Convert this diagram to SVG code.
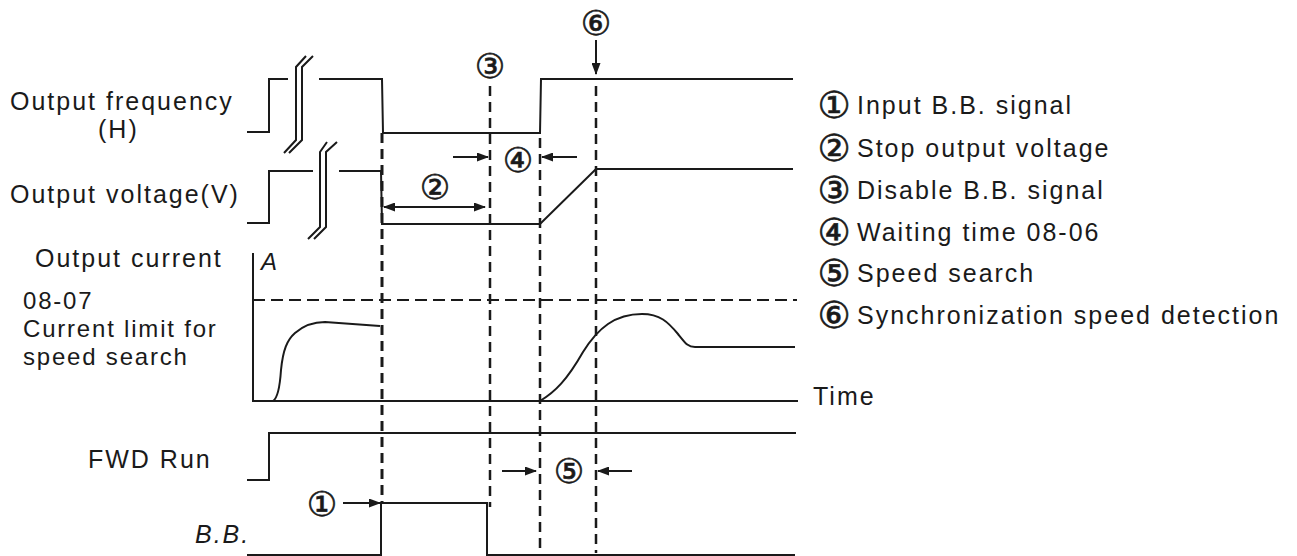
<svg xmlns="http://www.w3.org/2000/svg" width="1297" height="556" viewBox="0 0 1297 556">
<style>
.t{font-family:"Liberation Sans",Arial,sans-serif;font-size:25px;letter-spacing:2px;fill:#1a1a1a}
.sm{font-size:24px;letter-spacing:1.8px}
.it{font-style:italic}
.c{font-family:"DejaVu Sans",sans-serif;fill:#1a1a1a;stroke:#1a1a1a;stroke-width:0.6;text-anchor:middle;dominant-baseline:central}
.cl{font-size:37px}
.cd{font-size:34px}
.s{fill:none;stroke:#1a1a1a;stroke-width:2}
.d{fill:none;stroke:#1a1a1a;stroke-width:2.5;stroke-dasharray:10 6}
.dh{fill:none;stroke:#1a1a1a;stroke-width:2.2;stroke-dasharray:12 6}
.a{fill:none;stroke:#1a1a1a;stroke-width:2;marker-end:url(#ah)}
</style>
<defs>
<marker id="ah" markerUnits="userSpaceOnUse" markerWidth="12" markerHeight="9" refX="11" refY="4.5" orient="auto-start-reverse">
<path d="M0,0 L12,4.5 L0,9 z" fill="#1a1a1a"/>
</marker>
</defs>
<rect width="1297" height="556" fill="#fff"/>

<g id="labels">
<text class="t" x="10" y="110">Output frequency</text>
<text class="t" x="98" y="138">(H)</text>
<text class="t" x="10" y="203">Output voltage(V)</text>
<text class="t" x="35" y="267">Output current</text>
<text class="t sm" x="23" y="309">08-07</text>
<text class="t sm" x="23" y="337">Current limit for</text>
<text class="t sm" x="23" y="365">speed search</text>
<text class="t" x="88" y="468">FWD Run</text>
<text class="t it" x="195" y="543">B.B.</text>
<text class="t it" x="261" y="270" style="font-size:24px">A</text>
<text class="t" x="813" y="405">Time</text>
</g>

<g id="output-frequency">
<path class="s" d="M247,132 L269,132 L269,79 L288,79 M319,79 L382,79 L383,133 L540,133 L541,79 L793,79"/>
<path class="s" d="M284,153 L296,140 L296,67 L306,56 M289,153 L302,140 L302,67 L313,56"/>
</g>

<g id="output-voltage">
<path class="s" d="M247,223 L269,223 L269,171 L313,171 M339,171 L381,171 L382,224 L540,224 L596,169 L793,169"/>
<path class="s" d="M308,239 L320,227 L320,152 L327,142 M314,239 L326,227 L326,152 L337,142"/>
</g>

<g id="output-current">
<path class="s" d="M253,253 L253,401 L798,401"/>
<path class="dh" d="M253,300 L797,300"/>
<path class="s" d="M273,401 C278,398 280,385 281,370 C283,350 287,340 295,333 C303,326 312,322 325,322 L380,326"/>
<path class="s" d="M540,401 C555,392 567,380 583,352 C598,328 615,314 642,314 C660,314 668,322 678,334 C686,344 688,347 695,347 L795,347"/>
</g>

<g id="fwd-run">
<path class="s" d="M247,480 L269,480 L269,433 L796,433"/>
</g>

<g id="bb">
<path class="s" d="M247,555 L381,555 L381,503 L487,503 L487,555 L795,555"/>
</g>

<g id="connectors">
<path class="d" style="stroke-width:3" d="M382,133 L382,503"/>
<path class="d" d="M490,86 L490,507"/>
<path class="d" d="M540,138 L540,553"/>
<path class="d" d="M596,86 L596,553"/>
<path class="a" d="M596,40 L596,74"/>
<path class="a" d="M453,157 L488,157"/>
<path class="a" d="M577,157 L542,157"/>
<path class="a" style="marker-start:url(#ah)" d="M384,207 L485,207"/>
<path class="a" d="M502,471 L536,471"/>
<path class="a" d="M632,471 L598,471"/>
<path class="a" d="M343,503 L380,503"/>
</g>

<g id="markers">
<text class="c cd" x="596" y="23">⑥</text>
<text class="c cd" x="490" y="66">③</text>
<text class="c cd" x="518" y="160">④</text>
<text class="c cd" x="435" y="187">②</text>
<text class="c cd" x="569" y="471">⑤</text>
<text class="c cd" x="322" y="504">①</text>
</g>

<g id="legend">
<text class="c cl" x="834" y="105">①</text>
<text class="t" x="857" y="114">Input B.B. signal</text>
<text class="c cl" x="834" y="148">②</text>
<text class="t" x="857" y="157">Stop output voltage</text>
<text class="c cl" x="834" y="190">③</text>
<text class="t" x="857" y="199">Disable B.B. signal</text>
<text class="c cl" x="834" y="232">④</text>
<text class="t" x="857" y="241">Waiting time 08-06</text>
<text class="c cl" x="834" y="273">⑤</text>
<text class="t" x="857" y="282">Speed search</text>
<text class="c cl" x="834" y="315">⑥</text>
<text class="t" x="857" y="324">Synchronization speed detection</text>
</g>
</svg>
